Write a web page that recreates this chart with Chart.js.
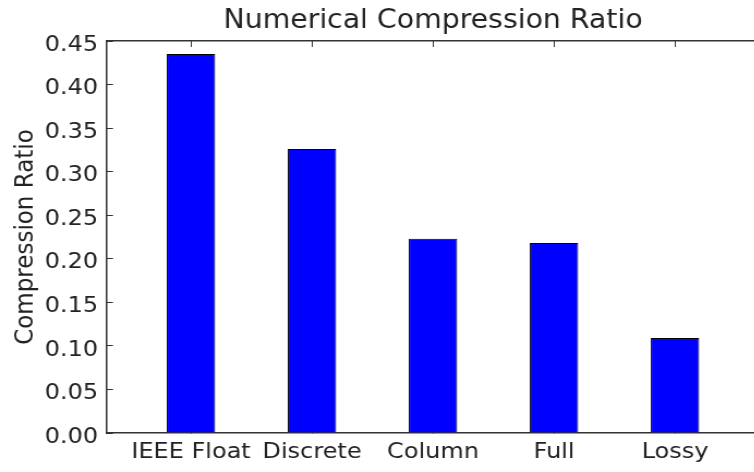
<!DOCTYPE html>
<html>
<head>
<meta charset="utf-8">
<script src="https://cdn.jsdelivr.net/npm/chart.js@4/dist/chart.umd.min.js"></script>
<style>
  html, body { margin: 0; padding: 0; background: #fff; overflow: hidden; }
  /* the figure is laid out a little narrower, then widened to its final size */
  #wrap { position: relative; width: 700px; height: 472px; transform: scaleX(1.09); transform-origin: 0 0; }
</style>
</head>
<body>
<div id="wrap"><canvas id="c"></canvas></div>
<script>
// Compression ratio of each numeric encoding scheme
const categories = ['IEEE Float', 'Discrete', 'Column', 'Full', 'Lossy'];
const ratios = [0.435, 0.326, 0.223, 0.218, 0.109];
const yTickValues = [0, 0.05, 0.10, 0.15, 0.20, 0.25, 0.30, 0.35, 0.40, 0.45];
const chartTitle = 'Numerical Compression Ratio';
const yAxisTitle = 'Compression Ratio';

const FONT = 'DejaVu Sans';
const INK = '#222';
const AXIS = '#333';
Chart.defaults.font.family = FONT;
Chart.defaults.color = INK;

const X_MIN = -0.694, X_MAX = 4.694;
const catTicks = (axis) => { axis.ticks = categories.map((_, i) => ({ value: i })); };
const inwardGrid = (len) => ({
  display: true, offset: false, drawOnChartArea: false, drawTicks: true,
  tickLength: -len, color: AXIS, lineWidth: 1
});
const spine = { display: true, color: AXIS, width: 1.5 };

new Chart(document.getElementById('c'), {
  type: 'bar',
  data: {
    datasets: [{
      data: ratios.map((v, i) => ({ x: i, y: v })),
      backgroundColor: '#0000ff',
      borderColor: '#000',
      borderWidth: 1,
      borderSkipped: 'start',
      categoryPercentage: 1,
      barPercentage: 0.4
    }]
  },
  options: {
    responsive: true,
    maintainAspectRatio: false,
    animation: false,
    layout: { padding: { left: 0, right: 3.7, top: 0, bottom: 0 } },
    plugins: {
      legend: { display: false },
      tooltip: { enabled: false },
      title: { display: false }
    },
    scales: {
      x: {
        type: 'linear',
        position: 'bottom',
        offset: false,
        min: X_MIN,
        max: X_MAX,
        afterBuildTicks: catTicks,
        afterFit: (s) => { s.height = 39; },
        ticks: {
          callback: (v) => categories[v] ?? '',
          font: { size: 22 },
          color: INK,
          padding: 12,
          maxRotation: 0,
          autoSkip: false
        },
        grid: inwardGrid(6),
        border: spine
      },
      x2: {
        type: 'linear',
        axis: 'x',
        position: 'top',
        offset: false,
        min: X_MIN,
        max: X_MAX,
        afterBuildTicks: catTicks,
        afterFit: (s) => { s.height = 41; },
        ticks: { display: false },
        grid: inwardGrid(6),
        border: spine,
        title: {
          display: true,
          text: chartTitle,
          color: INK,
          font: { size: 26 },
          padding: { top: 6, bottom: 0 }
        }
      },
      y: {
        type: 'linear',
        position: 'left',
        min: 0,
        max: 0.45,
        afterBuildTicks: (axis) => { axis.ticks = yTickValues.map((v) => ({ value: v })); },
        afterFit: (s) => { s.width = 98.2; },
        ticks: {
          callback: (v) => v.toFixed(2),
          font: { size: 22 },
          color: INK,
          padding: 13.8,
          labelOffset: 4
        },
        grid: inwardGrid(5.5),
        border: spine,
        title: {
          display: true,
          text: yAxisTitle,
          color: INK,
          font: { size: 23 },
          padding: { top: 10, bottom: 0 }
        }
      }
    }
  }
});
</script>
</body>
</html>
